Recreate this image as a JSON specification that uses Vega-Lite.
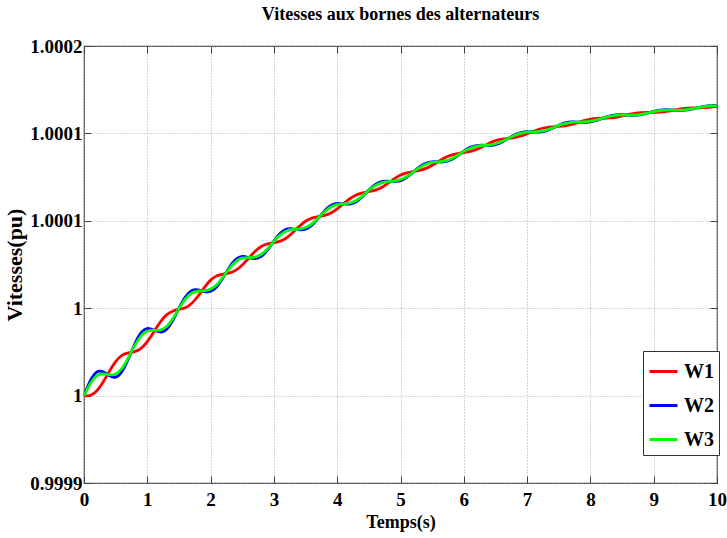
{
"$schema": "https://vega.github.io/schema/vega-lite/v6.json",
"width": 633,
"height": 437,
"autosize": {"type": "none"},
"padding": {"left": 84, "top": 46, "right": 10, "bottom": 55},
"background": "white",
"title": {"text": "Vitesses aux bornes des alternateurs", "font": "Liberation Serif, Times New Roman, serif", "fontSize": 18, "fontWeight": "bold", "color": "black", "anchor": "middle", "offset": 13},
"config": {
  "view": {"stroke": "#404040", "strokeWidth": 1.2},
  "axis": {"labelFont": "Liberation Serif, Times New Roman, serif", "labelFontWeight": "bold", "labelFontSize": 19, "labelColor": "black", "titleFont": "Liberation Serif, Times New Roman, serif", "titleFontWeight": "bold", "titleColor": "black", "gridColor": "#a8a8a8", "gridDash": [1, 2], "gridWidth": 1, "domain": false, "tickColor": "#404040", "tickSize": -7, "tickWidth": 1},
  "legend": {"labelFont": "Liberation Serif, Times New Roman, serif"}
},
"data": {"values": [
{"t":0,"W1":0.99995973,"W2":0.99995973,"W3":0.99995973},
{"t":0.1,"W1":0.99996021,"W2":0.99997021,"W3":0.99996821},
{"t":0.2,"W1":0.99996315,"W2":0.99997612,"W3":0.99997352},
{"t":0.3,"W1":0.99996911,"W2":0.99997642,"W3":0.99997496},
{"t":0.4,"W1":0.99997665,"W2":0.9999738,"W3":0.99997437},
{"t":0.5,"W1":0.99998336,"W2":0.99997271,"W3":0.99997483},
{"t":0.6,"W1":0.99998764,"W2":0.99997653,"W3":0.99997876},
{"t":0.7,"W1":0.99998937,"W2":0.99998509,"W3":0.99998595},
{"t":0.8,"W1":0.99999023,"W2":0.99999526,"W3":0.99999426},
{"t":0.9,"W1":0.9999924,"W2":1.00000299,"W3":1.00000087},
{"t":1.0,"W1":0.9999971,"W2":1.00000604,"W3":1.00000425},
{"t":1.1,"W1":1.00000354,"W2":1.00000507,"W3":1.00000477},
{"t":1.2,"W1":1.0000102,"W2":1.00000368,"W3":1.00000499},
{"t":1.3,"W1":1.00001523,"W2":1.00000532,"W3":1.0000073},
{"t":1.4,"W1":1.00001793,"W2":1.00001128,"W3":1.00001261},
{"t":1.5,"W1":1.00001917,"W2":1.00001997,"W3":1.00001981},
{"t":1.6,"W1":1.00002031,"W2":1.00002767,"W3":1.0000262},
{"t":1.7,"W1":1.00002323,"W2":1.00003204,"W3":1.00003028},
{"t":1.8,"W1":1.00002821,"W2":1.00003261,"W3":1.00003173},
{"t":1.9,"W1":1.00003411,"W2":1.00003146,"W3":1.00003199},
{"t":2.0,"W1":1.00003928,"W2":1.00003165,"W3":1.00003318},
{"t":2.1,"W1":1.00004222,"W2":1.00003484,"W3":1.00003632},
{"t":2.2,"W1":1.00004346,"W2":1.00004115,"W3":1.00004162},
{"t":2.3,"W1":1.00004427,"W2":1.00004829,"W3":1.00004749},
{"t":2.4,"W1":1.0000461,"W2":1.00005352,"W3":1.00005203},
{"t":2.5,"W1":1.00004969,"W2":1.00005548,"W3":1.00005432},
{"t":2.6,"W1":1.0000543,"W2":1.00005476,"W3":1.00005467},
{"t":2.7,"W1":1.00005893,"W2":1.00005401,"W3":1.000055},
{"t":2.8,"W1":1.00006234,"W2":1.00005553,"W3":1.00005689},
{"t":2.9,"W1":1.00006416,"W2":1.00006,"W3":1.00006083},
{"t":3.0,"W1":1.00006506,"W2":1.00006615,"W3":1.00006593},
{"t":3.1,"W1":1.00006604,"W2":1.00007141,"W3":1.00007033},
{"t":3.2,"W1":1.00006832,"W2":1.00007424,"W3":1.00007305},
{"t":3.3,"W1":1.00007196,"W2":1.00007453,"W3":1.00007402},
{"t":3.4,"W1":1.00007614,"W2":1.00007384,"W3":1.0000743},
{"t":3.5,"W1":1.0000797,"W2":1.00007428,"W3":1.00007537},
{"t":3.6,"W1":1.00008183,"W2":1.00007698,"W3":1.00007795},
{"t":3.7,"W1":1.00008287,"W2":1.00008173,"W3":1.00008196},
{"t":3.8,"W1":1.00008371,"W2":1.00008684,"W3":1.00008622},
{"t":3.9,"W1":1.00008533,"W2":1.00009049,"W3":1.00008946},
{"t":4.0,"W1":1.00008818,"W2":1.00009188,"W3":1.00009114},
{"t":4.1,"W1":1.00009171,"W2":1.0000916,"W3":1.00009162},
{"t":4.2,"W1":1.00009514,"W2":1.00009149,"W3":1.00009222},
{"t":4.3,"W1":1.00009769,"W2":1.00009304,"W3":1.00009398},
{"t":4.4,"W1":1.00009915,"W2":1.00009661,"W3":1.00009711},
{"t":4.5,"W1":1.00010007,"W2":1.00010119,"W3":1.00010096},
{"t":4.6,"W1":1.00010103,"W2":1.00010489,"W3":1.00010412},
{"t":4.7,"W1":1.00010292,"W2":1.00010688,"W3":1.00010608},
{"t":4.8,"W1":1.00010572,"W2":1.00010717,"W3":1.00010688},
{"t":4.9,"W1":1.00010881,"W2":1.00010692,"W3":1.0001073},
{"t":5.0,"W1":1.00011141,"W2":1.00010758,"W3":1.00010835},
{"t":5.1,"W1":1.00011296,"W2":1.00010979,"W3":1.00011043},
{"t":5.2,"W1":1.0001138,"W2":1.00011333,"W3":1.00011343},
{"t":5.3,"W1":1.00011459,"W2":1.00011698,"W3":1.0001165},
{"t":5.4,"W1":1.00011597,"W2":1.00011952,"W3":1.00011881},
{"t":5.5,"W1":1.00011818,"W2":1.00012051,"W3":1.00012004},
{"t":5.6,"W1":1.00012076,"W2":1.00012041,"W3":1.00012048},
{"t":5.7,"W1":1.00012323,"W2":1.00012055,"W3":1.00012108},
{"t":5.8,"W1":1.00012504,"W2":1.00012189,"W3":1.00012252},
{"t":5.9,"W1":1.00012612,"W2":1.0001246,"W3":1.0001249},
{"t":6.0,"W1":1.00012687,"W2":1.00012789,"W3":1.00012769},
{"t":6.1,"W1":1.00012764,"W2":1.0001304,"W3":1.00012985},
{"t":6.2,"W1":1.00012906,"W2":1.00013168,"W3":1.00013116},
{"t":6.3,"W1":1.00013108,"W2":1.00013185,"W3":1.00013169},
{"t":6.4,"W1":1.00013325,"W2":1.00013176,"W3":1.00013205},
{"t":6.5,"W1":1.00013503,"W2":1.00013236,"W3":1.0001329},
{"t":6.6,"W1":1.00013605,"W2":1.00013401,"W3":1.00013441},
{"t":6.7,"W1":1.00013661,"W2":1.0001365,"W3":1.00013652},
{"t":6.8,"W1":1.00013717,"W2":1.00013898,"W3":1.00013861},
{"t":6.9,"W1":1.00013819,"W2":1.00014063,"W3":1.00014014},
{"t":7.0,"W1":1.00013977,"W2":1.00014122,"W3":1.00014093},
{"t":7.1,"W1":1.00014139,"W2":1.00014095,"W3":1.00014104},
{"t":7.2,"W1":1.00014288,"W2":1.00014093,"W3":1.00014132},
{"t":7.3,"W1":1.0001439,"W2":1.00014179,"W3":1.00014221},
{"t":7.4,"W1":1.00014443,"W2":1.00014354,"W3":1.00014372},
{"t":7.5,"W1":1.00014478,"W2":1.00014564,"W3":1.00014547},
{"t":7.6,"W1":1.00014522,"W2":1.00014718,"W3":1.00014678},
{"t":7.7,"W1":1.00014612,"W2":1.00014785,"W3":1.0001475},
{"t":7.8,"W1":1.00014742,"W2":1.00014779,"W3":1.00014772},
{"t":7.9,"W1":1.00014878,"W2":1.00014762,"W3":1.00014785},
{"t":8.0,"W1":1.00014984,"W2":1.000148,"W3":1.00014837},
{"t":8.1,"W1":1.00015027,"W2":1.00014897,"W3":1.00014923},
{"t":8.2,"W1":1.00015041,"W2":1.00015048,"W3":1.00015047},
{"t":8.3,"W1":1.00015059,"W2":1.00015192,"W3":1.00015165},
{"t":8.4,"W1":1.00015109,"W2":1.00015275,"W3":1.00015242},
{"t":8.5,"W1":1.00015198,"W2":1.00015287,"W3":1.00015269},
{"t":8.6,"W1":1.00015292,"W2":1.00015249,"W3":1.00015258},
{"t":8.7,"W1":1.00015374,"W2":1.00015234,"W3":1.00015262},
{"t":8.8,"W1":1.00015422,"W2":1.00015282,"W3":1.0001531},
{"t":8.9,"W1":1.00015438,"W2":1.00015389,"W3":1.00015399},
{"t":9.0,"W1":1.00015444,"W2":1.00015514,"W3":1.00015501},
{"t":9.1,"W1":1.00015462,"W2":1.000156,"W3":1.00015572},
{"t":9.2,"W1":1.00015512,"W2":1.00015624,"W3":1.00015602},
{"t":9.3,"W1":1.00015588,"W2":1.00015602,"W3":1.00015599},
{"t":9.4,"W1":1.00015665,"W2":1.00015577,"W3":1.00015594},
{"t":9.5,"W1":1.0001572,"W2":1.00015592,"W3":1.00015617},
{"t":9.6,"W1":1.00015745,"W2":1.00015664,"W3":1.00015679},
{"t":9.7,"W1":1.00015752,"W2":1.00015768,"W3":1.00015764},
{"t":9.8,"W1":1.00015764,"W2":1.00015863,"W3":1.00015843},
{"t":9.9,"W1":1.00015801,"W2":1.00015913,"W3":1.00015891},
{"t":10,"W1":1.00015863,"W2":1.00015915,"W3":1.00015904}
]},
"transform": [{"fold": ["W1", "W2", "W3"], "as": ["serie", "v"]}],
"layer": [
  {
    "mark": {"type": "line", "strokeWidth": 2.8, "interpolate": "natural"},
    "encoding": {
      "x": {"field": "t", "type": "quantitative", "scale": {"domain": [0, 10], "nice": false},
        "axis": {"values": [0,1,2,3,4,5,6,7,8,9,10], "title": "Temps(s)", "titleFontSize": 18, "labelPadding": 14, "titlePadding": 4, "labelFlush": false}},
      "y": {"field": "v", "type": "quantitative", "scale": {"domain": [0.9999, 1.0002], "nice": false, "zero": false},
        "axis": {"values": [0.9999, 0.99996, 1.00002, 1.00008, 1.00014, 1.0002], "labelExpr": "format(datum.value, '.4~f')", "title": "Vitesses(pu)", "titleFontSize": 22, "labelPadding": 9, "titlePadding": 3}},
      "color": {"field": "serie", "type": "nominal",
        "scale": {"domain": ["W1", "W2", "W3"], "range": ["#ff0000", "#0000ff", "#00ff00"]},
        "legend": {"orient": "none", "legendX": 559, "legendY": 305, "title": null, "symbolType": "stroke", "symbolSize": 784, "symbolStrokeWidth": 3, "labelFont": "Liberation Serif, Times New Roman, serif", "labelFontWeight": "bold", "labelFontSize": 20, "labelColor": "black", "labelOffset": 5, "rowPadding": 8, "padding": 5, "strokeColor": "#333333", "fillColor": "white", "cornerRadius": 0}}
    }
  },
  {
    "mark": {"type": "line", "opacity": 0},
    "encoding": {
      "x": {"field": "t", "type": "quantitative", "axis": {"orient": "top", "values": [0,1,2,3,4,5,6,7,8,9,10], "labels": false, "grid": false, "title": null}},
      "y": {"field": "v", "type": "quantitative", "axis": {"orient": "right", "values": [0.9999, 0.99996, 1.00002, 1.00008, 1.00014, 1.0002], "labels": false, "grid": false, "title": null}},
      "detail": {"field": "serie"}
    }
  }
],
"resolve": {"axis": {"x": "independent", "y": "independent"}}
}
